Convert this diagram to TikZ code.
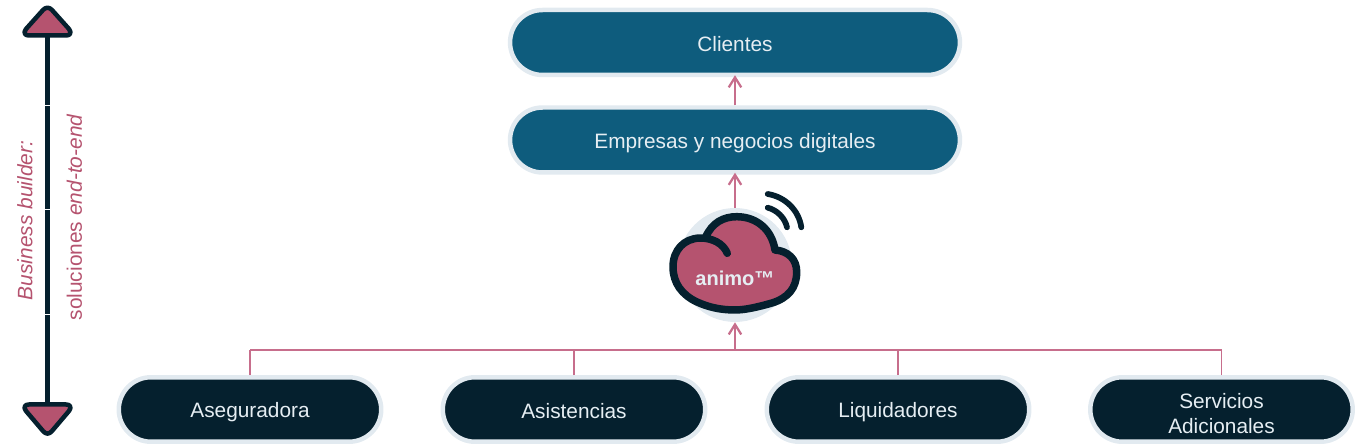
\documentclass[tikz,border=0pt]{standalone}
\usepackage{fontspec}
\setmainfont{Liberation Sans}
\usetikzlibrary{arrows.meta,shapes.misc}
\definecolor{rimgray}{HTML}{E2EAF0}
\definecolor{bluepill}{HTML}{0E5C7D}
\definecolor{darkpill}{HTML}{05202E}
\definecolor{rose}{HTML}{B5536F}
\definecolor{roseline}{HTML}{C76E8C}
\definecolor{pilltext}{HTML}{E6EEF3}
\newcommand{\pillstrut}{\rule[-2.3pt]{0pt}{14.3pt}}
\tikzset{
  pill/.style={rounded rectangle,draw=rimgray,line width=.09cm,text=pilltext,align=center,
    font=\fontsize{11.85}{14.2}\selectfont,inner sep=0pt,
    execute at begin node=\pillstrut,execute at end node=\pillstrut},
  toppill/.style={pill,fill=bluepill,minimum width=9cm,minimum height=1.3cm},
  lowpill/.style={pill,fill=darkpill,minimum width=5.25cm,minimum height=1.29cm},
  linkline/.style={draw=roseline,line width=.036cm},
  linkarrow/.style={linkline,-{Straight Barb[length=.2cm,width=.25cm,line width=.045cm]}},
  sidetext/.style={rotate=90,text=rose,font=\fontsize{11.9}{14.2}\selectfont},
  railend/.style={draw=darkpill,fill=rose,line width=.09cm,line join=round}
}
\begin{document}
\begin{tikzpicture}[x=.02cm,y=-.02cm]
\useasboundingbox (0,0) rectangle (1357,445);

% columna lateral
\coordinate (railtop) at (47.5,36);
\coordinate (railbot) at (47.5,405);
\draw[darkpill,line width=.085cm] (railtop) -- (railbot);
\draw[darkpill,line width=.095cm] (47.5,70) -- (47.5,88);
\draw[darkpill,line width=.095cm] (47.5,354) -- (47.5,383);
\foreach \y in {105,209,314} \draw[white,line width=.015cm] (44,\y) -- (51,\y);
\draw[railend] (43,10) .. controls (46,7) and (49,7) .. (52,10) -- (69,29)
  .. controls (72,33) and (70,35.5) .. (66,35.5) -- (29,35.5)
  .. controls (25,35.5) and (23,33) .. (26,29) -- cycle;
\draw[railend] (29,404.5) -- (66,404.5) .. controls (70,404.5) and (72,407) .. (69,411)
  -- (52,431) .. controls (49,434.5) and (46,434.5) .. (43,431) -- (26,411)
  .. controls (23,407) and (25,404.5) .. (29,404.5) -- cycle;
\node[sidetext] (builder) at (25,220.5) {\itshape Business builder:};
\node[sidetext] (endtoend) at (74.5,217.5) {soluciones \itshape end-to-end};

% cajas
\node[toppill] (clientes) at (735,42.5) {Clientes};
\node[toppill] (empresas) at (735,140) {Empresas y negocios digitales};
\node[lowpill] (aseguradora) at (250,409.5) {Aseguradora};
\node[lowpill] (asistencias) at (574,409.5) {Asistencias};
\node[lowpill] (liquidadores) at (898,409.5) {Liquidadores};
\node[lowpill] (servicios) at (1221.5,409.5) {\rule{0pt}{15pt}Servicios\\Adicionales};

% nube
\node[circle,fill=rimgray,minimum size=2.28cm,inner sep=0pt] (animo) at (735,265) {};
\draw[draw=darkpill,fill=rose,line width=.15cm,line cap=round,line join=round]
  (705.7,237) .. controls (712,223) and (723,216.7) .. (736.7,216.7)
  .. controls (757,216.7) and (772,230) .. (775,250)
  .. controls (788,251) and (796.7,259) .. (796.7,272)
  .. controls (796.7,288) and (788,298) .. (772,303)
  .. controls (758,307) and (745,310) .. (735,310)
  .. controls (720,310) and (708,307) .. (697,302)
  .. controls (682,295) and (673,283) .. (673,267)
  .. controls (673,250) and (684,238.5) .. (700,238)
  .. controls (712,238) and (723,243) .. (727.3,253.3);
\draw[darkpill,line width=.115cm,line cap=round] (767.7,194) .. controls (786,197) and (799,211) .. (801.3,227.3);
\draw[darkpill,line width=.115cm,line cap=round] (767.7,207.7) .. controls (777,210) and (785,218) .. (787,227.3);
\node[text=pilltext,font=\fontsize{11.4}{13.7}\selectfont\bfseries] (animotxt) at (735,278) {animo™};

% conectores
\coordinate (bus) at (735,350);
\draw[linkarrow,shorten >=-.04cm] (empresas.north) -- (clientes.south);
\draw[linkarrow,shorten >=-.04cm] (animo.north) -- (empresas.south);
\draw[linkarrow] (bus) -- (animo.south);
\draw[linkline] (aseguradora.north |- bus) -- (servicios.north |- bus);
\foreach \n in {aseguradora,asistencias,liquidadores,servicios}
  \draw[linkline] (\n.north) -- (\n.north |- bus);
\end{tikzpicture}
\end{document}
